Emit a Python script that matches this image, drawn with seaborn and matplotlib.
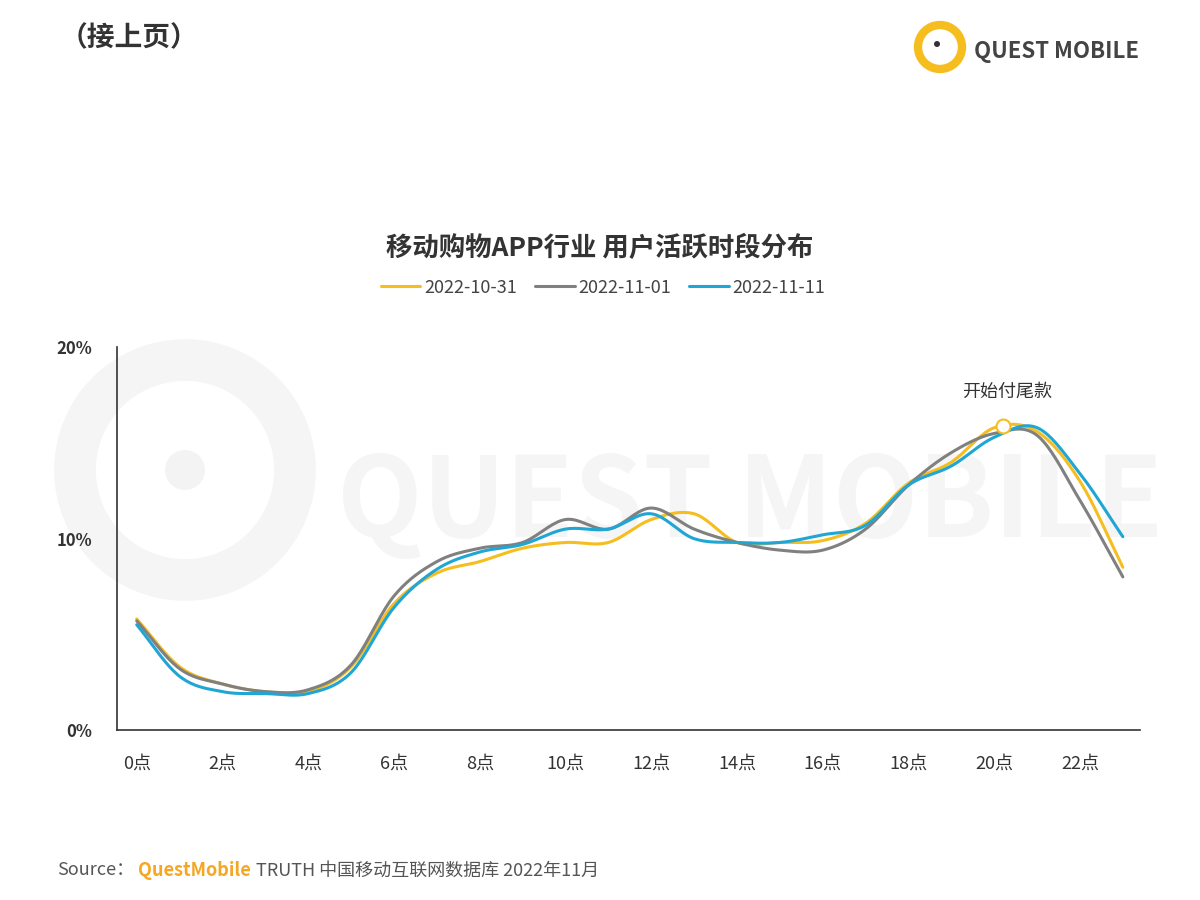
import numpy as np
import matplotlib
matplotlib.use("Agg")
import matplotlib.pyplot as plt
import seaborn as sns
from matplotlib.patches import Circle

sns.set_theme(style="white")
plt.rcParams['font.family'] = ['Noto Sans CJK SC', 'DejaVu Sans']

hours = list(range(24))
tick_labels = [f"{h}点" for h in range(0, 24, 2)]
s1031 = [5.8,3.3,2.4,2.0,2.0,3.3,6.6,8.2,8.8,9.5,9.8,9.8,11.0,11.3,9.8,9.8,9.9,10.8,12.9,14.0,15.8,15.6,13.0,8.5]
s1101 = [5.7,3.2,2.4,2.0,2.1,3.4,7.0,8.8,9.5,9.8,11.0,10.5,11.6,10.5,9.8,9.4,9.4,10.5,12.8,14.5,15.5,15.4,12.0,8.0]
s1111 = [5.5,2.8,2.0,1.9,1.9,3.0,6.4,8.4,9.3,9.7,10.5,10.5,11.3,10.0,9.8,9.8,10.2,10.7,12.8,13.8,15.3,15.8,13.4,10.1]
series = {"2022-10-31": (s1031, "#F5BE1E"), "2022-11-01": (s1101, "#808080"), "2022-11-11": (s1111, "#1FA6D4")}

def smooth(x, y, n=20):
    x = np.asarray(x, float); y = np.asarray(y, float)
    xp = np.concatenate([[2*x[0]-x[1]], x, [2*x[-1]-x[-2]]])
    yp = np.concatenate([[2*y[0]-y[1]], y, [2*y[-1]-y[-2]]])
    xs, ys = [], []
    for i in range(1, len(xp)-2):
        t = np.linspace(0, 1, n, endpoint=False)
        p0,p1,p2,p3 = yp[i-1:i+3]
        ys.append(0.5*((2*p1)+(-p0+p2)*t+(2*p0-5*p1+4*p2-p3)*t**2+(-p0+3*p1-3*p2+p3)*t**3))
        xs.append(xp[i]+(xp[i+1]-xp[i])*t)
    xs.append([x[-1]]); ys.append([y[-1]])
    return np.concatenate(xs), np.concatenate(ys)

fig = plt.figure(figsize=(12, 9), dpi=100)

bg = fig.add_axes([0, 0, 1, 1], zorder=-1)
bg.set_xlim(0, 1200); bg.set_ylim(900, 0); bg.axis("off")
bg.add_patch(Circle((185, 470), 110, fill=False, lw=30, ec="#F5F5F5"))
bg.add_patch(Circle((185, 470), 20, fc="#F3F3F3", ec="none"))
bg.text(750, 505, "QUEST MOBILE", fontsize=80, color="#F5F5F5", ha="center", va="center", fontweight="bold")

ax = fig.add_axes([0.0975, 0.189, 0.8525, 0.425])
ax.patch.set_alpha(0)

for name, (vals, col) in series.items():
    xs, ys = smooth(hours, vals)
    sns.lineplot(x=xs, y=ys, ax=ax, color=col, lw=2.2, label=name, sort=False)

ax.set_xlim(-0.46, 23.4)
ax.set_ylim(0, 20)
ax.set_yticks([0, 10, 20])
ax.set_yticklabels(["0%", "10%", "20%"], fontsize=12, fontweight="bold", color="#333333")
ax.set_xticks(range(0, 24, 2))
ax.set_xticklabels(tick_labels, fontsize=13, color="#333333")
for s in ["top", "right"]:
    ax.spines[s].set_visible(False)
for s in ["left", "bottom"]:
    ax.spines[s].set_color("#333333"); ax.spines[s].set_linewidth(1.2)
ax.tick_params(axis="x", length=0, pad=18)
ax.tick_params(axis="y", length=0, pad=18)

ax.plot([20.2], [15.9], marker="o", ms=10, mfc="white", mec="#F5BE1E", mew=1.5, zorder=5)
ax.text(20.3, 17.7, "开始付尾款", ha="center", va="center", fontsize=13, color="#333333")

leg = ax.legend(loc="lower center", bbox_to_anchor=(0.475, 1.09), ncol=3, frameon=False,
                fontsize=13, handlelength=2.2, columnspacing=1.0, handletextpad=0.2)
for t in leg.get_texts():
    t.set_color("#444444")

fig.text(0.5, 0.724, "移动购物APP行业 用户活跃时段分布", ha="center", va="center",
         fontsize=19, fontweight="bold", color="#333333")
fig.text(0.05, 0.958, "（接上页）", ha="left", va="center", fontsize=20, fontweight="bold", color="#333333")
bg.add_patch(Circle((940, 47), 22, fill=False, ec="#F5BE1E", lw=6))
bg.add_patch(Circle((937, 44), 3, fc="#333333", ec="none"))
fig.text(0.812, 0.943, "QUEST MOBILE", ha="left", va="center", fontsize=16, fontweight="bold", color="#444444")
fig.text(0.048, 0.033, "Source：", ha="left", va="center", fontsize=13, color="#555555")
fig.text(0.115, 0.033, "QuestMobile", ha="left", va="center", fontsize=13, fontweight="bold", color="#F5A623")
fig.text(0.213, 0.033, "TRUTH 中国移动互联网数据库 2022年11月", ha="left", va="center", fontsize=13, color="#555555")

fig.savefig("out.png", dpi=100)
